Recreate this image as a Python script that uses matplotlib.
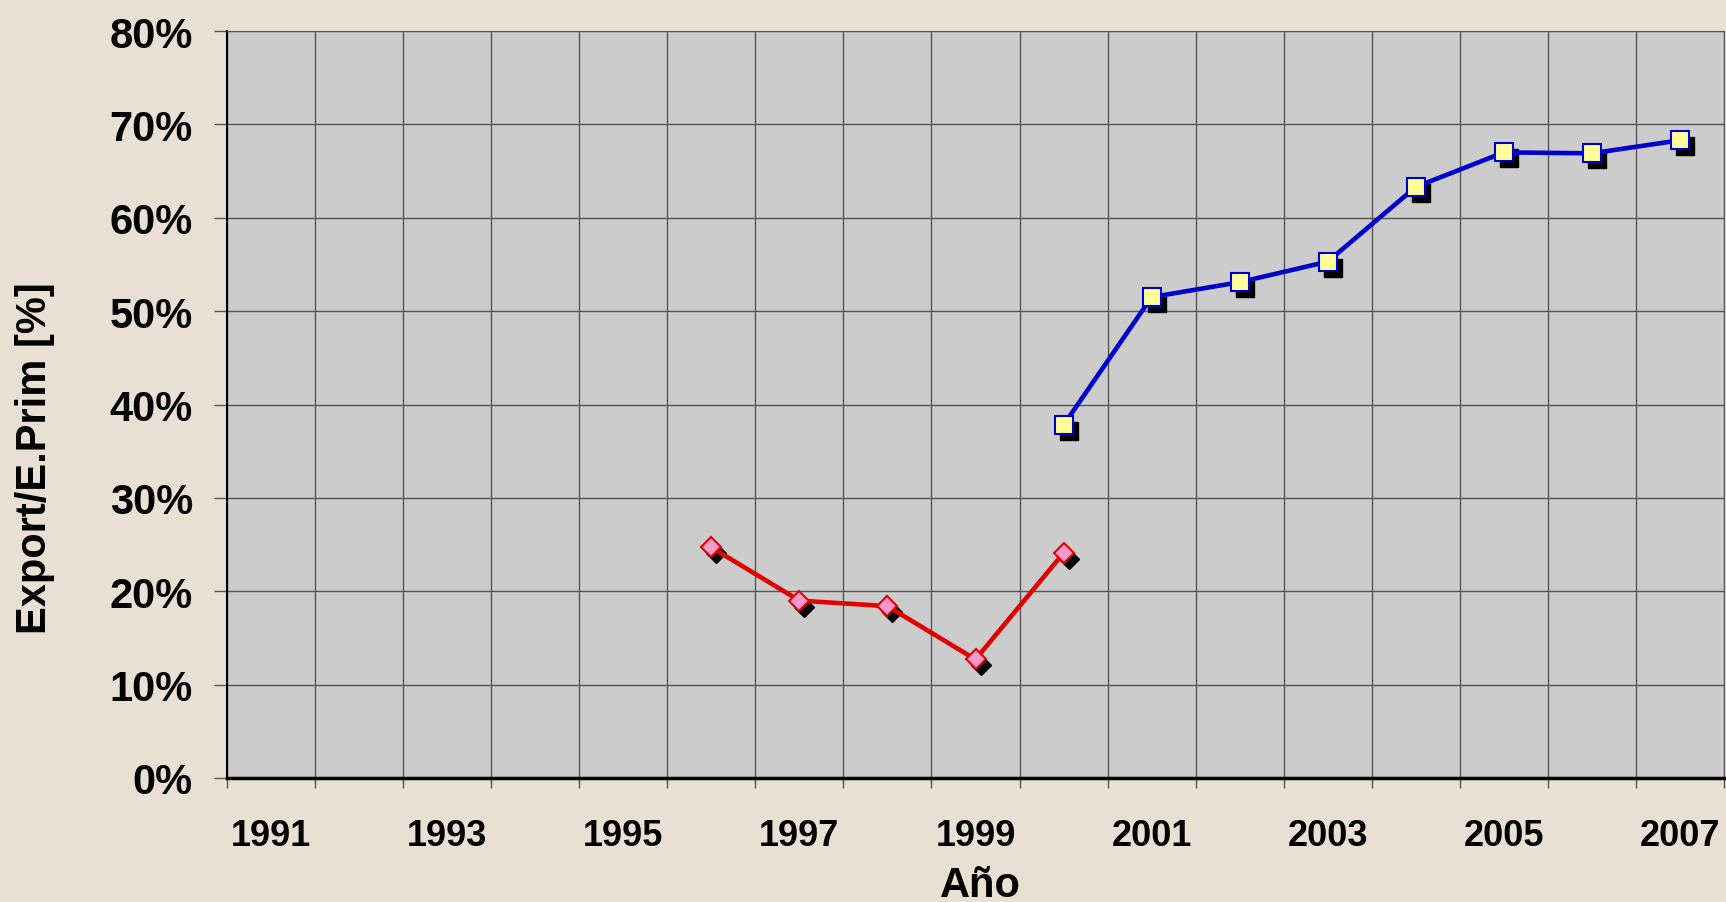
import matplotlib
matplotlib.use('Agg')
import matplotlib.pyplot as plt
from matplotlib import transforms
from matplotlib.ticker import FixedLocator, FuncFormatter

# ── Data ──
red_years = [1996, 1997, 1998, 1999, 2000]
red_vals = [24.7, 19.0, 18.4, 12.7, 24.1]

blue_years = [2000, 2001, 2002, 2003, 2004, 2005, 2006, 2007]
blue_vals = [37.8, 51.5, 53.1, 55.3, 63.3, 67.0, 66.9, 68.3]

label_years = [1991, 1993, 1995, 1997, 1999, 2001, 2003, 2005, 2007]
first_year, last_year = 1991, 2007

# ── Style ──
plt.rcParams['font.family'] = ['Liberation Sans', 'DejaVu Sans']
plt.rcParams['font.weight'] = 'bold'

W, H = 1726, 903
fig = plt.figure(figsize=(W / 100, H / 100), dpi=100, facecolor='#e9e0d3')
ax = fig.add_axes([227 / W, 1 - 779 / H, (1724 - 227) / W, (779 - 32) / H])
ax.set_facecolor('#cccccc')

grid_c = '#555555'

# shadows: same markers shifted down-right a few pixels
shadow = transforms.offset_copy(ax.transData, fig=fig, x=5, y=-6, units='dots')
ax.plot(red_years, red_vals, linestyle='none', marker='D', ms=10, color='black',
        transform=shadow, zorder=3)
ax.plot(blue_years, blue_vals, linestyle='none', marker='s', ms=13.5, color='black',
        transform=shadow, zorder=3)

ax.plot(red_years, red_vals, color='#e00000', lw=3.3, marker='D', ms=10,
        markerfacecolor='#ff99cc', markeredgecolor='#e00000', markeredgewidth=1.5, zorder=4)
ax.plot(blue_years, blue_vals, color='#0000cc', lw=3.3, marker='s', ms=13.5,
        markerfacecolor='#ffff99', markeredgecolor='#0000cc', markeredgewidth=1.5, zorder=4)

ax.set_xlim(first_year - 0.5, last_year + 0.5)
ax.set_ylim(0, 80)

# category boundaries: ticks + vertical grid
bounds = [y + 0.5 for y in range(first_year - 1, last_year + 1)]
ax.xaxis.set_major_locator(FixedLocator(bounds))
ax.xaxis.set_major_formatter(FuncFormatter(lambda x, _: ''))
ax.xaxis.set_minor_locator(FixedLocator(label_years))
ax.xaxis.set_minor_formatter(FuncFormatter(lambda x, _: f'{int(round(x))}'))
ax.tick_params(axis='x', which='major', direction='out', length=7.5, width=1, color=grid_c)
ax.tick_params(axis='x', which='minor', length=0, pad=29, labelsize=26)

ax.set_yticks(range(0, 81, 10))
ax.yaxis.set_major_formatter(FuncFormatter(lambda v, _: f'{v:.0f}%'))
ax.tick_params(axis='y', direction='out', length=9.5, width=1, color=grid_c,
               pad=15, labelsize=30)

for lab in ax.get_xticklabels(minor=True) + ax.get_yticklabels():
    lab.set_fontweight('bold')

ax.grid(True, which='major', color=grid_c, linewidth=1)
ax.set_axisbelow(True)

ax.spines['left'].set_color('black')
ax.spines['left'].set_linewidth(1.5)
ax.spines['bottom'].set_color('black')
ax.spines['bottom'].set_linewidth(2.5)
ax.spines['top'].set_color(grid_c)
ax.spines['right'].set_color(grid_c)

fig.text(35 / W, 1 - 458 / H, 'Export/E.Prim [%]', rotation=90, fontsize=30,
         fontweight='bold', ha='center', va='center')
fig.text(980 / W, 1 - 886 / H, 'Año', fontsize=30, fontweight='bold',
         ha='center', va='center')

fig.savefig('out.png', dpi=100, facecolor=fig.get_facecolor())
plt.close(fig)
